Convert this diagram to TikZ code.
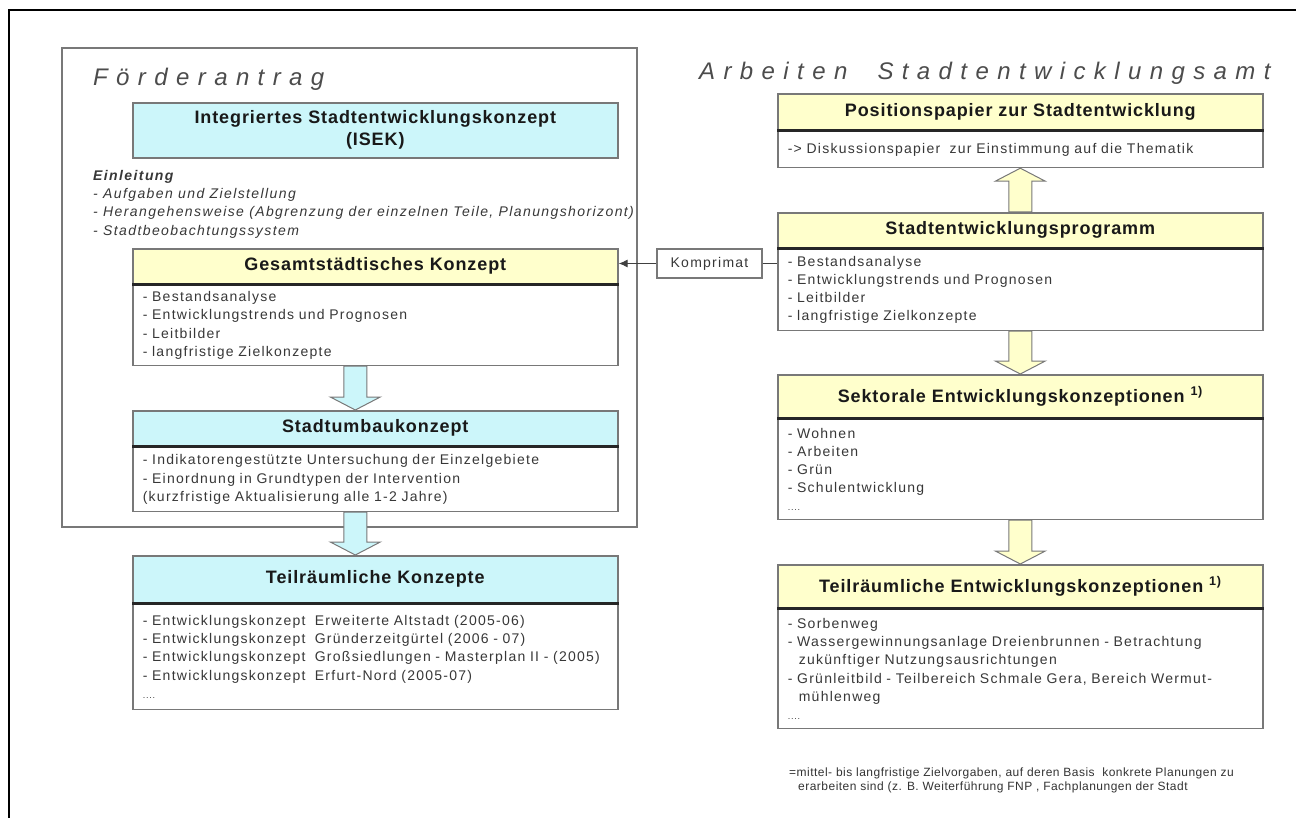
\documentclass[tikz,border=0pt]{standalone}
\usepackage{fontspec}
\setmainfont{Liberation Sans}
\newfontfamily\bodyfont{Liberation Sans}[LetterSpace=9]
\newfontfamily\slantfont{Liberation Sans}[LetterSpace=10]
\newfontfamily\headfont{Liberation Sans}[LetterSpace=5]
\newfontfamily\titlefont{Liberation Sans}[LetterSpace=35]
\newfontfamily\notefont{Liberation Sans}[LetterSpace=4]
\usetikzlibrary{arrows.meta,calc}

\definecolor{isekcyan}{RGB}{204,246,250}
\definecolor{amtyellow}{RGB}{255,255,204}
\definecolor{framegray}{RGB}{120,120,120}
\definecolor{textgray}{RGB}{55,55,55}

\tikzset{
  head/.style={draw=framegray, line width=1.6pt, anchor=north west, minimum width=485pt,
    inner sep=0pt, align=center, text=black!90, font=\headfont\bfseries\fontsize{18}{22}\selectfont},
  cyanhead/.style={head, fill=isekcyan},
  yellowhead/.style={head, fill=amtyellow},
  body/.style={draw=framegray, line width=1.6pt, anchor=north, minimum width=485pt, text width=465pt,
    inner xsep=10pt, inner ysep=0pt, align=left, text=textgray, font=\bodyfont\fontsize{14}{18.2}\selectfont},
  sepline/.style={line width=3pt, draw=black!85},
  blockarrow/.style={draw=framegray, line width=1pt},
  bigtitle/.style={anchor=base west, inner sep=0pt, text=black!70, font=\titlefont\itshape\fontsize{24}{24}\selectfont},
}

% block arrow from #1 to #2, filled with #3
\newcommand\blockarrow[3]{%
  \draw[blockarrow, fill=#3] let \p1=(#1), \p2=(#2), \p3=($(#2)!13pt!(#1)$) in
    (\x1-11.5pt,\y1) -- (\x1-11.5pt,\y3) -- (\x1-25pt,\y3) -- (\x2,\y2)
    -- (\x1+25pt,\y3) -- (\x1+11.5pt,\y3) -- (\x1+11.5pt,\y1) -- cycle;}

\begin{document}
\begin{tikzpicture}[x=1pt,y=-1pt]
  \useasboundingbox (0,0) rectangle (1296,818);
  % outer frame
  \draw[line width=2pt] (9,818) -- (9,10) -- (1296,10);

  % Foerderantrag
  \draw[draw=framegray, line width=1.4pt] (62,48) rectangle (637,527);
  \node[bigtitle] (antragtitle) at (93,86) {Förderantrag};
  \node[cyanhead, minimum height=55pt] (isek) at (132,102) {Integriertes Stadtentwicklungskonzept\\(ISEK)};
  \node[anchor=north west, align=left, inner sep=0pt, text=textgray,
    font=\slantfont\itshape\fontsize{14}{18.3}\selectfont] (einleitung) at (93,170)
    {\textbf{Einleitung}\\- Aufgaben und Zielstellung\\- Herangehensweise (Abgrenzung der einzelnen Teile, Planungshorizont)\\- Stadtbeobachtungssystem};

  \node[yellowhead, minimum height=35pt] (gesamthead) at (132,248) {Gesamtstädtisches Konzept};
  \node[body, minimum height=80pt] (gesamtbody) at (gesamthead.south)
    {- Bestandsanalyse\\- Entwicklungstrends und Prognosen\\- Leitbilder\\- langfristige Zielkonzepte};
  \draw[sepline] (gesamthead.south west) -- (gesamthead.south east);

  \node[cyanhead, minimum height=35pt] (umbauhead) at (132,410) {Stadtumbaukonzept};
  \node[body, minimum height=64pt] (umbaubody) at (umbauhead.south)
    {- Indikatorengestützte Untersuchung der Einzelgebiete\\- Einordnung in Grundtypen der Intervention\\(kurzfristige Aktualisierung alle 1-2 Jahre)};
  \draw[sepline] (umbauhead.south west) -- (umbauhead.south east);

  \node[cyanhead, minimum height=47pt] (teilrhead) at (132,555) {Teilräumliche Konzepte};
  \node[body, minimum height=105pt] (teilrbody) at (teilrhead.south)
    {- Entwicklungskonzept\ \ Erweiterte Altstadt (2005-06)\\- Entwicklungskonzept\ \ Gründerzeitgürtel (2006 - 07)\\- Entwicklungskonzept\ \ Großsiedlungen - Masterplan II - (2005)\\- Entwicklungskonzept\ \ Erfurt-Nord (2005-07)\\{\fontsize{9}{18.2}\selectfont ....}};
  \draw[sepline] (teilrhead.south west) -- (teilrhead.south east);

  \blockarrow{$(gesamtbody.south)+(-20,0)$}{$(umbauhead.north)+(-20,0)$}{isekcyan}
  \blockarrow{$(umbaubody.south)+(-20,0)$}{$(teilrhead.north)+(-20,0)$}{isekcyan}

  % Arbeiten Stadtentwicklungsamt
  \node[bigtitle] (amttitle) at (699,80) {Arbeiten\ \ Stadtentwicklungsamt};

  \node[yellowhead, minimum height=36pt] (posithead) at (777,93) {Positionspapier zur Stadtentwicklung};
  \node[body, minimum height=36pt] (positbody) at (posithead.south)
    {-> Diskussionspapier\ \ zur Einstimmung auf die Thematik};
  \draw[sepline] (posithead.south west) -- (posithead.south east);

  \node[yellowhead, minimum height=35pt] (proghead) at (777,212) {Stadtentwicklungsprogramm};
  \node[body, minimum height=81pt] (progbody) at (proghead.south)
    {- Bestandsanalyse\\- Entwicklungstrends und Prognosen\\- Leitbilder\\- langfristige Zielkonzepte};
  \draw[sepline] (proghead.south west) -- (proghead.south east);

  \node[yellowhead, minimum height=43pt] (sekthead) at (777,374) {Sektorale Entwicklungskonzeptionen \textsuperscript{1)}};
  \node[body, minimum height=100pt] (sektbody) at (sekthead.south)
    {- Wohnen\\- Arbeiten\\- Grün\\- Schulentwicklung\\{\fontsize{9}{18.2}\selectfont ....}};
  \draw[sepline] (sekthead.south west) -- (sekthead.south east);

  \node[yellowhead, minimum height=43pt] (entwhead) at (777,564) {Teilräumliche Entwicklungskonzeptionen \textsuperscript{1)}};
  \node[body, minimum height=119pt] (entwbody) at (entwhead.south)
    {- Sorbenweg\\- Wassergewinnungsanlage Dreienbrunnen - Betrachtung\\\hspace*{11pt}zukünftiger Nutzungsausrichtungen\\- Grünleitbild - Teilbereich Schmale Gera, Bereich Wermut-\\\hspace*{11pt}mühlenweg\\{\fontsize{9}{18.2}\selectfont ....}};
  \draw[sepline] (entwhead.south west) -- (entwhead.south east);

  \blockarrow{proghead.north}{positbody.south}{amtyellow}
  \blockarrow{progbody.south}{sekthead.north}{amtyellow}
  \blockarrow{sektbody.south}{entwhead.north}{amtyellow}

  % Komprimat
  \node[draw=framegray, line width=1.2pt, minimum width=105pt, minimum height=29pt, inner sep=0pt,
    text=textgray, font=\bodyfont\fontsize{14}{16}\selectfont] (komprimat) at (709.5,263.5) {Komprimat};
  \draw[line width=1.2pt, draw=black!75] (komprimat.east) -- (komprimat.east -| progbody.west);
  \draw[line width=1.2pt, draw=black!75, -{Latex[length=9pt,width=8pt]}] (komprimat.west) -- (komprimat.west -| gesamthead.east);

  % footnote
  \node[anchor=north west, align=left, inner sep=0pt, text=black!80, font=\notefont\fontsize{12}{14}\selectfont] (fussnote) at (789,768)
    {=mittel- bis langfristige Zielvorgaben, auf deren Basis\ \ konkrete Planungen zu\\\hspace*{9pt}erarbeiten sind (z. B. Weiterführung FNP , Fachplanungen der Stadt};
\end{tikzpicture}
\end{document}
